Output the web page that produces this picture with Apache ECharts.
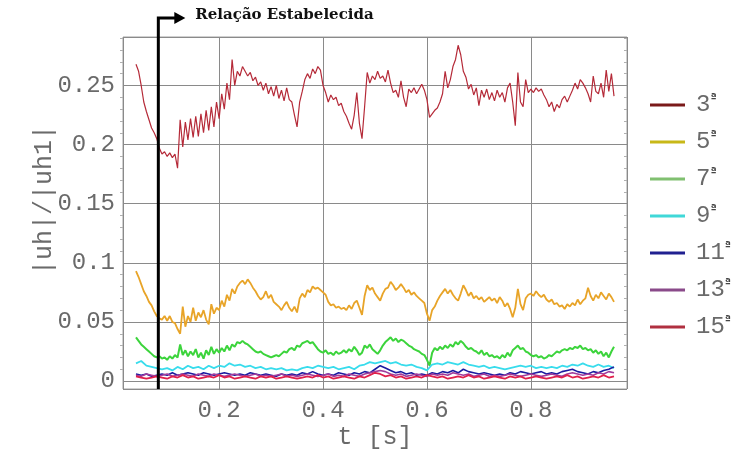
<!DOCTYPE html>
<html><head><meta charset="utf-8">
<script src="https://cdn.jsdelivr.net/npm/echarts@6/dist/echarts.min.js"></script>
<style>html,body{margin:0;padding:0;background:#fff}#c{width:731px;height:455px}</style>
</head><body><div id="c"></div>
<script>
// ---- data ----
const harmonicNames = ['3', '5', '7', '9', '11', '13', '15'];
const xTickValues = [0.2, 0.4, 0.6, 0.8];
const yTickValues = [0, 0.05, 0.1, 0.15, 0.2, 0.25];
const relationTime = 0.083;
const relationLabel = 'Relação Estabelecida';
const fineStart = 0.04, fineStep = 0.005;     // sampling of 3rd, 5th, 7th
const coarseStart = 0.04, coarseStep = 0.01;  // sampling of 9th..15th

const h3 = [0.268,0.262,0.250,0.236,0.228,0.221,0.214,0.210,0.205,0.197,
0.192,0.194,0.190,0.193,0.189,0.192,0.180,0.221,0.198,0.219,
0.204,0.222,0.206,0.224,0.207,0.226,0.210,0.229,0.212,0.232,
0.215,0.236,0.222,0.243,0.230,0.252,0.238,0.272,0.250,0.262,
0.258,0.266,0.262,0.258,0.261,0.254,0.257,0.250,0.253,0.246,
0.252,0.243,0.249,0.241,0.250,0.239,0.246,0.237,0.248,0.238,
0.236,0.225,0.215,0.236,0.245,0.255,0.260,0.256,0.264,0.260,
0.266,0.263,0.250,0.244,0.236,0.242,0.238,0.240,0.233,0.235,
0.228,0.224,0.218,0.213,0.225,0.244,0.218,0.205,0.232,0.261,
0.252,0.258,0.255,0.262,0.256,0.258,0.253,0.263,0.252,0.244,
0.246,0.240,0.254,0.240,0.232,0.247,0.244,0.248,0.243,0.247,
0.251,0.246,0.238,0.223,0.226,0.229,0.231,0.236,0.243,0.262,
0.248,0.255,0.266,0.272,0.284,0.276,0.262,0.257,0.247,0.251,
0.242,0.248,0.233,0.246,0.240,0.247,0.238,0.244,0.237,0.246,
0.240,0.244,0.236,0.248,0.252,0.236,0.216,0.261,0.236,0.232,
0.255,0.244,0.247,0.244,0.248,0.245,0.247,0.242,0.238,0.232,
0.236,0.228,0.234,0.231,0.238,0.241,0.236,0.241,0.246,0.252,
0.247,0.255,0.252,0.248,0.243,0.236,0.258,0.245,0.243,0.252,
0.240,0.263,0.245,0.260,0.241];

const h5 = [0.093,0.088,0.082,0.076,0.072,0.067,0.064,0.059,0.055,0.053,
0.052,0.055,0.051,0.055,0.050,0.049,0.044,0.040,0.063,0.046,
0.055,0.050,0.062,0.051,0.058,0.054,0.060,0.052,0.048,0.065,
0.057,0.062,0.060,0.068,0.063,0.073,0.068,0.078,0.074,0.080,
0.083,0.085,0.082,0.086,0.083,0.079,0.076,0.072,0.069,0.071,
0.076,0.070,0.073,0.067,0.065,0.063,0.060,0.064,0.067,0.062,
0.059,0.063,0.058,0.070,0.074,0.071,0.077,0.075,0.080,0.078,
0.079,0.077,0.075,0.073,0.067,0.064,0.065,0.062,0.063,0.061,
0.062,0.060,0.064,0.061,0.066,0.068,0.062,0.056,0.072,0.081,
0.077,0.079,0.074,0.071,0.068,0.074,0.078,0.079,0.084,0.081,
0.077,0.079,0.082,0.079,0.075,0.077,0.073,0.075,0.072,0.070,
0.068,0.066,0.057,0.051,0.060,0.063,0.068,0.072,0.075,0.078,
0.074,0.077,0.073,0.070,0.068,0.074,0.081,0.077,0.072,0.075,
0.070,0.072,0.069,0.071,0.067,0.069,0.071,0.068,0.070,0.066,
0.071,0.068,0.063,0.066,0.061,0.054,0.062,0.078,0.065,0.060,
0.070,0.073,0.074,0.072,0.076,0.073,0.071,0.073,0.069,0.067,
0.069,0.065,0.066,0.063,0.064,0.061,0.065,0.063,0.066,0.064,
0.069,0.065,0.068,0.070,0.079,0.072,0.068,0.073,0.070,0.075,
0.072,0.069,0.074,0.071,0.067];

const h7 = [0.037,0.034,0.031,0.029,0.027,0.025,0.023,0.021,0.020,0.021,
0.019,0.020,0.018,0.021,0.019,0.022,0.020,0.031,0.022,0.026,
0.021,0.025,0.022,0.027,0.020,0.024,0.019,0.026,0.022,0.029,
0.023,0.027,0.024,0.028,0.025,0.030,0.026,0.031,0.029,0.033,
0.032,0.034,0.032,0.031,0.029,0.027,0.025,0.024,0.025,0.023,
0.022,0.021,0.020,0.021,0.022,0.021,0.023,0.025,0.024,0.027,
0.028,0.026,0.030,0.029,0.032,0.033,0.034,0.032,0.033,0.030,
0.027,0.025,0.024,0.026,0.023,0.024,0.022,0.025,0.023,0.024,
0.026,0.024,0.027,0.025,0.029,0.026,0.022,0.024,0.030,0.028,
0.031,0.027,0.025,0.023,0.026,0.030,0.033,0.035,0.037,0.034,
0.036,0.033,0.035,0.034,0.032,0.030,0.029,0.027,0.026,0.025,
0.023,0.022,0.018,0.013,0.024,0.028,0.026,0.029,0.027,0.030,
0.028,0.031,0.029,0.033,0.031,0.034,0.032,0.029,0.027,0.028,
0.026,0.025,0.023,0.026,0.022,0.024,0.021,0.022,0.020,0.021,
0.019,0.022,0.020,0.024,0.021,0.026,0.028,0.030,0.027,0.028,
0.025,0.024,0.022,0.021,0.022,0.020,0.021,0.019,0.020,0.022,
0.021,0.023,0.025,0.024,0.026,0.027,0.026,0.028,0.027,0.029,
0.028,0.030,0.027,0.028,0.026,0.027,0.024,0.026,0.023,0.025,
0.021,0.024,0.020,0.025,0.029];

const h9 = [0.015,0.017,0.013,0.012,0.011,0.010,0.011,0.009,0.012,0.010,
0.013,0.011,0.012,0.010,0.013,0.011,0.013,0.012,0.015,0.013,
0.014,0.012,0.013,0.011,0.012,0.010,0.011,0.010,0.011,0.009,
0.010,0.009,0.011,0.012,0.011,0.013,0.012,0.011,0.012,0.010,
0.011,0.012,0.010,0.013,0.014,0.016,0.015,0.016,0.017,0.015,
0.016,0.014,0.013,0.014,0.012,0.011,0.009,0.014,0.015,0.014,
0.016,0.015,0.014,0.016,0.014,0.013,0.012,0.013,0.011,0.012,
0.011,0.010,0.011,0.012,0.013,0.012,0.013,0.011,0.012,0.011,
0.012,0.011,0.013,0.012,0.014,0.013,0.015,0.013,0.012,0.014,
0.012,0.013,0.011];

const h11 = [0.006,0.005,0.006,0.004,0.005,0.006,0.005,0.007,0.005,0.006,
0.007,0.006,0.005,0.007,0.006,0.005,0.006,0.007,0.006,0.005,
0.006,0.005,0.007,0.006,0.005,0.006,0.005,0.004,0.006,0.005,
0.006,0.005,0.007,0.006,0.008,0.006,0.005,0.006,0.005,0.007,
0.006,0.005,0.007,0.006,0.008,0.007,0.010,0.013,0.011,0.009,
0.007,0.008,0.006,0.007,0.005,0.006,0.005,0.007,0.006,0.008,
0.007,0.009,0.007,0.010,0.008,0.007,0.006,0.007,0.006,0.005,
0.006,0.005,0.007,0.006,0.008,0.007,0.006,0.007,0.008,0.006,
0.007,0.006,0.008,0.009,0.010,0.008,0.007,0.006,0.008,0.007,
0.009,0.010,0.012];

const h13 = [0.005,0.004,0.006,0.005,0.004,0.005,0.006,0.004,0.005,0.006,
0.005,0.004,0.006,0.005,0.004,0.006,0.005,0.004,0.005,0.006,
0.005,0.004,0.005,0.006,0.004,0.005,0.004,0.005,0.006,0.004,
0.005,0.004,0.005,0.006,0.005,0.004,0.005,0.006,0.004,0.005,
0.004,0.006,0.005,0.004,0.006,0.007,0.008,0.009,0.008,0.006,
0.005,0.006,0.004,0.005,0.006,0.005,0.004,0.006,0.005,0.006,
0.005,0.007,0.006,0.005,0.006,0.004,0.005,0.006,0.004,0.005,
0.004,0.005,0.006,0.005,0.004,0.005,0.006,0.005,0.004,0.005,
0.006,0.005,0.004,0.006,0.007,0.006,0.005,0.006,0.005,0.007,
0.006,0.008,0.007];

const h15 = [0.004,0.003,0.002,0.003,0.004,0.003,0.002,0.004,0.003,0.005,
0.003,0.004,0.002,0.003,0.004,0.003,0.005,0.003,0.004,0.002,
0.003,0.004,0.003,0.002,0.004,0.003,0.004,0.002,0.003,0.004,
0.003,0.002,0.003,0.004,0.003,0.005,0.003,0.004,0.002,0.003,
0.004,0.003,0.002,0.004,0.003,0.005,0.007,0.006,0.004,0.005,
0.003,0.004,0.002,0.003,0.004,0.003,0.005,0.004,0.003,0.004,
0.002,0.003,0.004,0.003,0.005,0.003,0.004,0.002,0.003,0.004,
0.003,0.002,0.004,0.003,0.004,0.002,0.003,0.004,0.003,0.002,
0.003,0.004,0.003,0.005,0.003,0.004,0.002,0.003,0.004,0.003,
0.005,0.003,0.004];

// ---- presentation ----
const lineColors   = ['#b52a38', '#e8a428', '#3cd43c', '#38dcec', '#1c1ca0', '#a03c9c', '#e0204c'];
const lineWidths   = [1.2, 1.8, 2, 1.8, 1.6, 1.6, 1.8];
const legendColors = ['#7a1a1a', '#c8b818', '#80c070', '#40d8d8', '#202090', '#8a4a8a', '#b03040'];
const valueSets = [h3, h5, h7, h9, h11, h13, h15];
const fine = [true, true, true, false, false, false, false];

function pairs(vals, start, step) {
  return vals.map((v, i) => [+(start + i * step).toFixed(4), v]);
}
function isTick(v, list) { return list.some(t => Math.abs(t - v) < 1e-6); }

const Y_MIN = -0.0067, Y_MAX = 0.291, X_MIN = 0.015, X_MAX = 0.985;
const mono = 'Liberation Mono';
const grey = '#6a6a6a';

const chart = echarts.init(document.getElementById('c'), null, { renderer: 'canvas' });

const series = harmonicNames.map((n, k) => ({
  name: n,
  type: 'line',
  showSymbol: false,
  symbol: 'none',
  data: fine[k] ? pairs(valueSets[k], fineStart, fineStep) : pairs(valueSets[k], coarseStart, coarseStep),
  lineStyle: { color: lineColors[k], width: lineWidths[k] },
  itemStyle: { color: lineColors[k] },
  z: 2 + k
}));

const tickGrey = '#b0b0b0';

chart.setOption({
  animation: false,
  backgroundColor: '#fff',
  grid: { left: 123, right: 104, top: 37, bottom: 63, show: true, borderColor: '#a0a0a0', borderWidth: 1, backgroundColor: 'transparent' },
  xAxis: [{
    type: 'value', min: X_MIN, max: X_MAX, splitNumber: 5,
    name: 't [s]', nameLocation: 'middle', nameGap: 36, nameMoveOverlap: false,
    nameTextStyle: { fontFamily: mono, fontSize: 25, color: grey },
    axisLine: { show: false },
    axisTick: { show: false },
    axisLabel: { fontFamily: mono, fontSize: 24, color: grey, margin: 10,
      formatter: v => isTick(v, xTickValues) ? v.toFixed(1) : '' },
    splitLine: { show: true, lineStyle: { color: '#8a8a8a', width: 1 } }
  }],
  yAxis: [{
    type: 'value', min: Y_MIN, max: Y_MAX, splitNumber: 6,
    name: '|uh|/|uh1|', nameLocation: 'middle', nameGap: 66, nameRotate: 90, nameMoveOverlap: false,
    nameTextStyle: { fontFamily: mono, fontSize: 25, color: grey, padding: [0, 0, 0, 26] },
    axisLine: { show: false },
    axisTick: { show: false },
    minorTick: { show: true, splitNumber: 5, length: 3, lineStyle: { color: tickGrey } },
    axisLabel: { fontFamily: mono, fontSize: 24, color: grey, margin: 8,
      formatter: v => isTick(v, yTickValues) ? String(+v.toFixed(2)) : '' },
    splitLine: { show: true, lineStyle: { color: '#8a8a8a', width: 1 } }
  }, {
    type: 'value', position: 'right', min: Y_MIN, max: Y_MAX, splitNumber: 6,
    axisLine: { show: false },
    axisTick: { show: false, inside: true },
    minorTick: { show: true, splitNumber: 5, length: 3, lineStyle: { color: tickGrey } },
    axisLabel: { show: false },
    splitLine: { show: false }
  }],
  legend: {
    orient: 'vertical', left: 645, top: 88,
    icon: 'rect', itemWidth: 35, itemHeight: 3, itemGap: 13,
    data: harmonicNames.map((n, k) => ({ name: n, itemStyle: { color: legendColors[k] } })),
    formatter: n => n + '{s|ª}',
    textStyle: { fontFamily: mono, fontSize: 24, color: grey, lineHeight: 24, padding: [0, 0, 0, 6],
      rich: { s: { fontFamily: 'DejaVu Sans', fontWeight: 'bold', fontSize: 11, color: '#444', verticalAlign: 'top', lineHeight: 12 } } }
  },
  series: series
});

// annotation: vertical marker at the relation time, drawn through the axis scale
const px = chart.convertToPixel({ xAxisIndex: 0 }, relationTime);
const pyBottom = chart.convertToPixel({ yAxisIndex: 0 }, Y_MIN);
const topY = 18;
chart.setOption({
  graphic: [
    { type: 'polyline', z: 50, shape: { points: [[px, pyBottom], [px, topY], [px + 18, topY]] },
      style: { stroke: '#000', lineWidth: 3, fill: null } },
    { type: 'polygon', z: 50, shape: { points: [[px + 16, topY - 6], [px + 27, topY], [px + 16, topY + 6]] },
      style: { fill: '#000' } },
    { type: 'text', z: 50, left: px + 37, top: topY - 10,
      style: { text: relationLabel, font: 'bold 15px "DejaVu Serif"', fill: '#111' } }
  ]
});
</script></body></html>
